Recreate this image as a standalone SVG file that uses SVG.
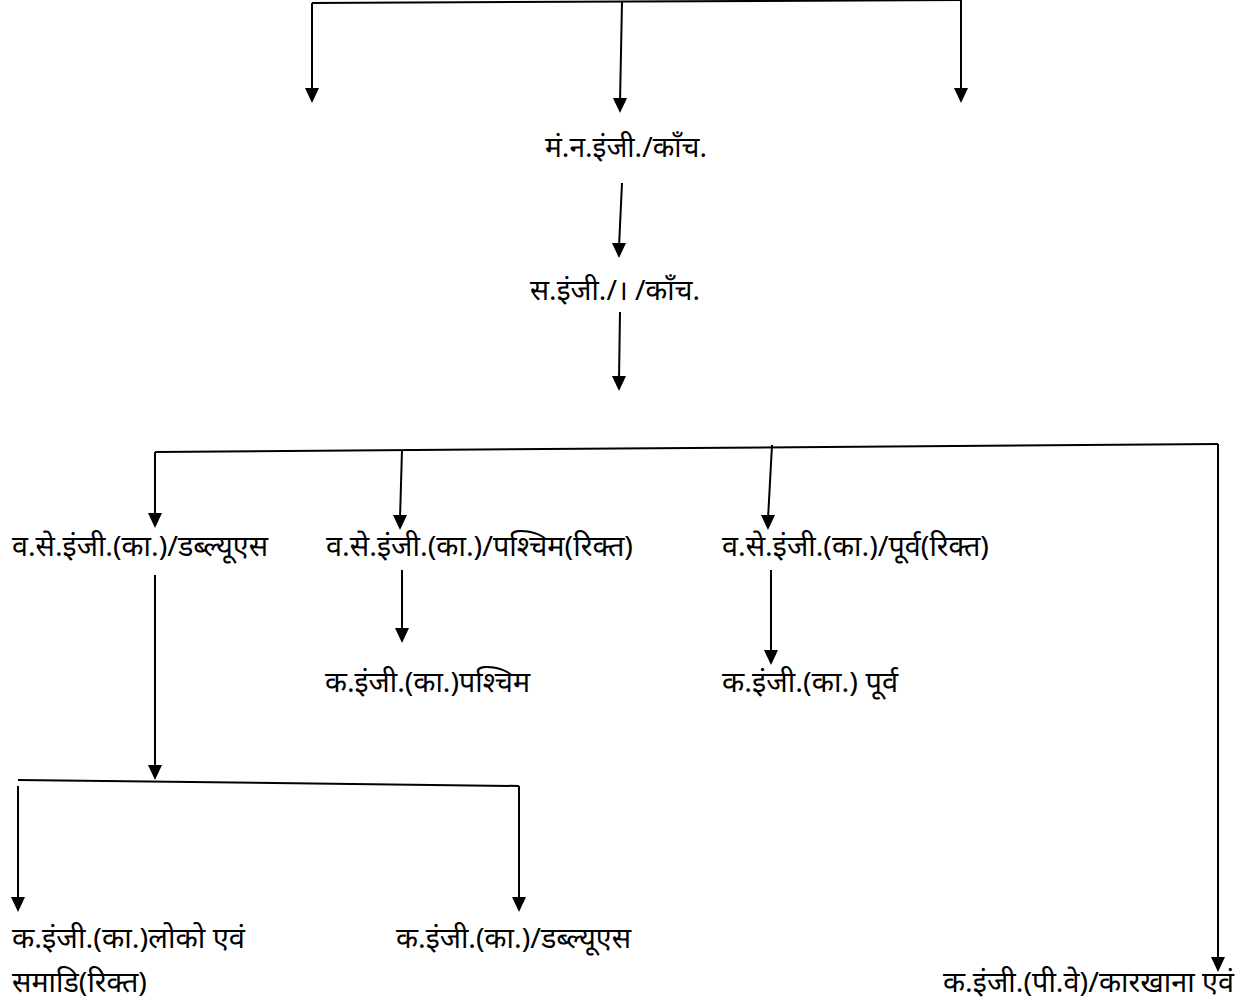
<svg xmlns="http://www.w3.org/2000/svg" width="1248" height="1007" viewBox="0 0 1248 1007">
<style>
.t{font-family:"Noto Sans","Noto Sans Devanagari","Liberation Sans",sans-serif;font-size:28px;fill:#000}
.c{stroke:#000;stroke-width:2;fill:none}
.h{fill:#000}
</style>
<rect width="1248" height="1007" fill="#fff"/>
<g id="connectors">
<path class="c" d="M312,3 L961,0"/>
<path class="c" d="M312,3 V92"/>
<polygon class="h" points="305,88 319,88 312,103"/>
<path class="c" d="M622,2 L620,102"/>
<polygon class="h" points="613,98 627,98 620,113"/>
<path class="c" d="M961,0 V92"/>
<polygon class="h" points="954,88 968,88 961,103"/>
<path class="c" d="M622,183 L619,247"/>
<polygon class="h" points="612,243 626,243 619,258"/>
<path class="c" d="M620,312 L619,380"/>
<polygon class="h" points="612,376 626,376 619,391"/>
<path class="c" d="M155,452 L1218,444"/>
<path class="c" d="M155,452 V517"/>
<polygon class="h" points="148,513 162,513 155,528"/>
<path class="c" d="M402,450 L400,519"/>
<polygon class="h" points="393,515 407,515 400,530"/>
<path class="c" d="M772,445 L768,519"/>
<polygon class="h" points="761,515 775,515 768,530"/>
<path class="c" d="M1218,444 V961"/>
<polygon class="h" points="1211,957 1225,957 1218,972"/>
<path class="c" d="M155,575 V769"/>
<polygon class="h" points="148,765 162,765 155,780"/>
<path class="c" d="M402,570 V632"/>
<polygon class="h" points="395,628 409,628 402,643"/>
<path class="c" d="M771,570 V654"/>
<polygon class="h" points="764,650 778,650 771,665"/>
<path class="c" d="M18,780 L519,786"/>
<path class="c" d="M18,786 V901"/>
<polygon class="h" points="11,897 25,897 18,912"/>
<path class="c" d="M519,786 V901"/>
<polygon class="h" points="512,897 526,897 519,912"/>
</g>
<g id="n1"><text class="t" x="545" y="157" textLength="162" lengthAdjust="spacingAndGlyphs">मं.न.इंजी./काँच.</text></g>
<g id="n2"><text class="t" x="530" y="300" textLength="170" lengthAdjust="spacingAndGlyphs">स.इंजी./।  /काँच.</text></g>
<g id="n3"><text class="t" x="12" y="556" textLength="256" lengthAdjust="spacingAndGlyphs">व.से.इंजी.(का.)/डब्ल्यूएस</text></g>
<g id="n4"><text class="t" x="326" y="556" textLength="307" lengthAdjust="spacingAndGlyphs">व.से.इंजी.(का.)/पश्चिम(रिक्त)</text></g>
<g id="n5"><text class="t" x="722" y="556" textLength="267" lengthAdjust="spacingAndGlyphs">व.से.इंजी.(का.)/पूर्व(रिक्त)</text></g>
<g id="n6"><text class="t" x="325" y="692" textLength="205" lengthAdjust="spacingAndGlyphs">क.इंजी.(का.)पश्चिम</text></g>
<g id="n7"><text class="t" x="722" y="692" textLength="176" lengthAdjust="spacingAndGlyphs">क.इंजी.(का.)  पूर्व</text></g>
<g id="n8"><text class="t" x="12" y="948" textLength="233" lengthAdjust="spacingAndGlyphs">क.इंजी.(का.)लोको  एवं</text><text class="t" x="12" y="992" textLength="135" lengthAdjust="spacingAndGlyphs">समाडि(रिक्त)</text></g>
<g id="n9"><text class="t" x="396" y="948" textLength="235" lengthAdjust="spacingAndGlyphs">क.इंजी.(का.)/डब्ल्यूएस</text></g>
<g id="n10"><text class="t" x="943" y="992" textLength="291" lengthAdjust="spacingAndGlyphs">क.इंजी.(पी.वे)/कारखाना  एवं</text></g>
</svg>
